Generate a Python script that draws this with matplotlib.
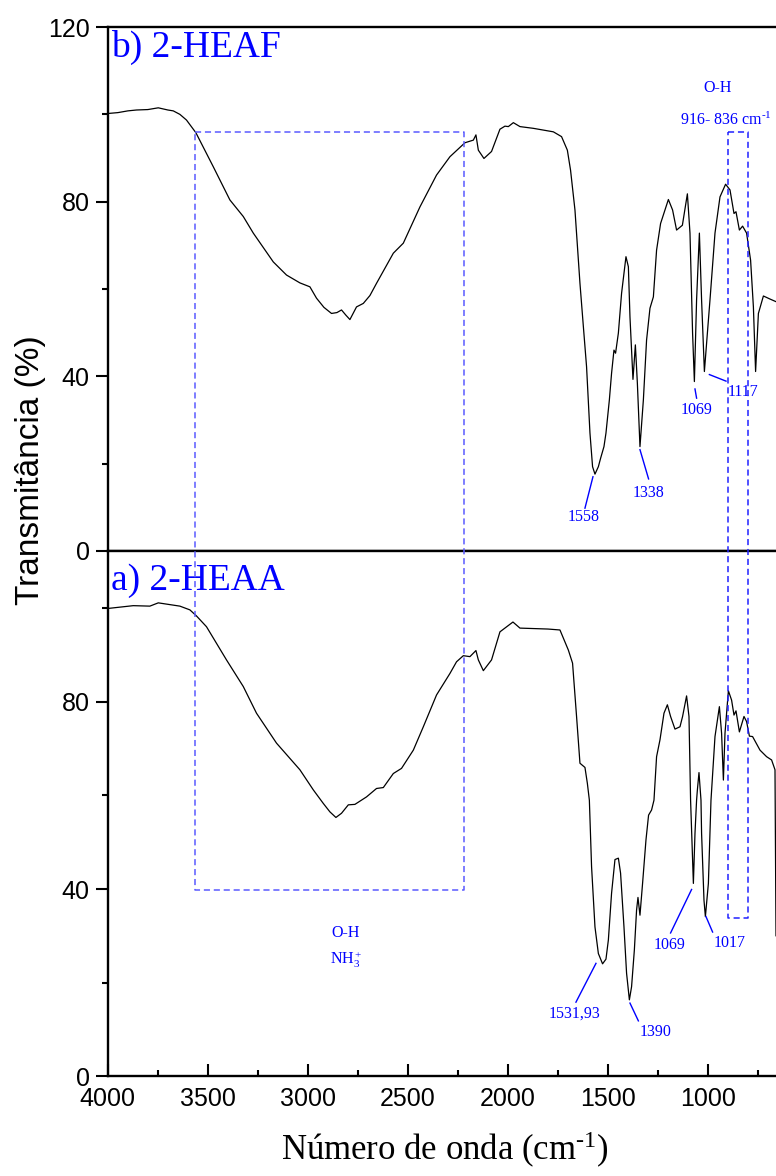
import matplotlib
matplotlib.use('Agg')
import matplotlib.pyplot as plt
from matplotlib.lines import Line2D
from matplotlib.ticker import MultipleLocator

plt.rcParams['font.family'] = ['Liberation Sans', 'DejaVu Sans']
plt.rcParams['mathtext.fontset'] = 'custom'
plt.rcParams['mathtext.rm'] = 'Liberation Serif'
plt.rcParams['mathtext.it'] = 'Liberation Serif:italic'

# b) 2-HEAF spectrum (upper panel)
wn_heaf = [4000, 3950, 3900, 3857, 3800, 3748, 3700, 3673, 3640, 3607, 3560, 3473, 3390,
           3323, 3273, 3173, 3107, 3040, 2990, 2957, 2920, 2882, 2855, 2832, 2810, 2790,
           2757, 2723, 2690, 2657, 2573, 2523, 2440, 2357, 2290, 2215, 2173, 2160, 2148,
           2120, 2082, 2040, 2015, 1998, 1973, 1940, 1873, 1773, 1732, 1703, 1687, 1665,
           1640, 1623, 1607, 1590, 1577, 1565, 1548, 1537, 1520, 1510, 1493, 1482, 1470,
           1462, 1448, 1432, 1410, 1398, 1390, 1375, 1363, 1353, 1340, 1323, 1307, 1290,
           1273, 1257, 1237, 1198, 1177, 1157, 1128, 1103, 1090, 1077, 1068, 1057, 1043,
           1032, 1018, 1003, 990, 965, 940, 912, 890, 870, 860, 843, 827, 807, 787, 773,
           762, 748, 723, 690, 660]
t_heaf = [100.2, 100.4, 100.8, 101.0, 101.1, 101.5, 101.0, 100.8, 100.0, 98.7, 95.8, 88.0, 80.4,
          76.6, 72.8, 66.2, 63.2, 61.4, 60.5, 57.9, 55.8, 54.4, 54.6, 55.2, 54.0, 53.0,
          55.9, 56.7, 58.5, 61.3, 68.2, 70.5, 78.8, 86.1, 90.3, 93.5, 94.1, 95.3, 91.8,
          89.9, 91.5, 96.6, 97.3, 97.2, 98.1, 97.2, 96.8, 96.0, 94.9, 91.8, 87.2, 78.1,
          61.3, 51.4, 42.2, 27.0, 19.3, 17.6, 19.3, 21.2, 23.9, 27.0, 34.6, 40.7, 46.0,
          45.3, 49.9, 59.0, 67.4, 65.1, 53.6, 39.3, 47.2, 38.4, 23.9, 34.6, 48.3, 55.6,
          58.2, 68.9, 75.0, 80.5, 78.1, 73.5, 74.6, 81.8, 72.8, 49.9, 38.8, 57.5, 72.8,
          57.5, 41.1, 49.9, 57.5, 72.8, 81.1, 84.0, 82.7, 77.3, 77.7, 73.5, 74.4, 72.8, 66.6, 55.9,
          41.1, 54.4, 58.4, 57.7, 57.1]

# a) 2-HEAA spectrum (lower panel)
wn_heaa = [4000, 3873, 3790, 3748, 3640, 3590, 3557, 3507, 3407, 3323, 3257, 3157, 3040,
           2973, 2923, 2890, 2860, 2832, 2798, 2765, 2707, 2657, 2623, 2573, 2532, 2473,
           2423, 2357, 2290, 2257, 2223, 2190, 2160, 2148, 2123, 2082, 2040, 1975, 1940,
           1800, 1740, 1698, 1677, 1657, 1640, 1615, 1603, 1593, 1582, 1565, 1548, 1527,
           1510, 1498, 1482, 1465, 1448, 1437, 1420, 1407, 1393, 1382, 1368, 1357, 1350,
           1340, 1327, 1310, 1297, 1282, 1270, 1257, 1240, 1220, 1203, 1187, 1165, 1140,
           1127, 1107, 1095, 1087, 1073, 1065, 1057, 1053, 1045, 1035, 1032, 1020, 1013,
           998, 985, 965, 943, 932, 923, 915, 898, 882, 870, 860, 843, 820, 807, 793,
           777, 740, 707, 682, 665, 660]
t_heaa = [100.0, 100.6, 100.5, 101.2, 100.5, 99.7, 98.4, 96.1, 89.0, 83.3, 77.6, 71.2, 65.5,
          61.2, 58.3, 56.5, 55.3, 56.2, 58.0, 58.1, 59.7, 61.5, 61.7, 64.7, 65.8, 69.7,
          74.7, 81.5, 86.1, 88.6, 89.9, 89.7, 91.0, 89.0, 86.7, 89.0, 95.0, 97.1, 95.8,
          95.6, 95.4, 91.1, 88.3, 76.9, 66.9, 66.0, 62.6, 59.0, 44.8, 31.9, 26.2, 24.0,
          25.0, 29.1, 39.1, 46.3, 46.6, 43.4, 31.9, 22.0, 16.3, 19.1, 27.0, 35.5, 38.2,
          34.4, 41.2, 50.5, 55.8, 56.9, 59.0, 68.3, 71.9, 77.6, 79.4, 76.9, 74.2, 74.7,
          76.9, 81.3, 76.9, 59.0, 41.2, 51.9, 59.0, 61.2, 64.9, 59.0, 51.9, 37.6, 34.1,
          41.2, 59.0, 72.6, 79.0, 73.3, 63.3, 73.3, 82.4, 80.4, 77.2, 78.1, 73.6, 76.9, 75.8, 72.7,
          72.6, 69.7, 68.3, 67.6, 65.5, 30.0]

# peak labels: (text, text_x, text_y, line_x0, line_y0, line_x1, line_y1)
peaks_heaf = [('1558', 1620, 7.8, 1575, 17.0, 1615, 9.8),
              ('1338', 1295, 13.3, 1340, 23.2, 1297, 16.5),
              ('1069', 1055, 32.3, 1065, 37.1, 1057, 35.0),
              ('1117', 825, 36.4, 993, 40.4, 910, 38.9)]
peaks_heaa = [('1531,93', 1665, 13.3, 1560, 24.1, 1660, 15.8),
              ('1390', 1260, 9.5, 1390, 15.6, 1348, 11.8),
              ('1069', 1190, 28.0, 1082, 39.9, 1187, 30.6),
              ('1017', 893, 28.5, 1010, 34.1, 977, 30.8)]

blue = '#0000ff'
serif = ['Liberation Serif', 'DejaVu Serif']

fig = plt.figure(figsize=(7.76, 11.76), dpi=100)
ax_b = fig.add_axes([0.139, 0.5315, 0.861, 0.4455])
ax_a = fig.add_axes([0.139, 0.085, 0.861, 0.4465])

ax_b.plot(wn_heaf, t_heaf, color='black', lw=0.9)
ax_a.plot(wn_heaa, t_heaa, color='black', lw=0.9)

ax_b.set_ylim(0, 120)
ax_a.set_ylim(0, 112.3)
for ax in (ax_a, ax_b):
    ax.set_xlim(4000, 660)
    ax.spines['right'].set_visible(False)
    for s in ('left', 'bottom', 'top'):
        ax.spines[s].set_linewidth(1.7)
    ax.yaxis.set_major_locator(MultipleLocator(40))
    ax.yaxis.set_minor_locator(MultipleLocator(20))
    ax.xaxis.set_major_locator(MultipleLocator(500))
    ax.xaxis.set_minor_locator(MultipleLocator(250))
    ax.tick_params(axis='y', which='major', direction='out', length=9, width=1.5,
                   labelsize=18, pad=4)
    ax.tick_params(axis='y', which='minor', direction='out', length=4.5, width=1.5)
    ax.tick_params(axis='x', which='major', direction='in', length=9, width=1.5,
                   labelsize=18, pad=8)
    ax.tick_params(axis='x', which='minor', direction='in', length=4.5, width=1.5)

ax_b.tick_params(axis='x', which='both', bottom=False, labelbottom=False)
ax_a.tick_params(axis='x', which='both', top=False)

ax_b.text(3985, 115.4, 'b) 2-HEAF', color=blue, family=serif, fontsize=27,
          ha='left', va='center')
ax_a.text(3985, 105.9, 'a) 2-HEAA', color=blue, family=serif, fontsize=27,
          ha='left', va='center')

for ax, peaks in ((ax_b, peaks_heaf), (ax_a, peaks_heaa)):
    for txt, tx, ty, x0, y0, x1, y1 in peaks:
        ax.plot([x0, x1], [y0, y1], color=blue, lw=1)
        ax.text(tx, ty, txt, color=blue, family=serif, fontsize=11.5,
                ha='center', va='center')

ax_b.text(950, 106, 'O-H', color=blue, family=serif, fontsize=11.5, ha='center', va='center')
ax_b.text(1140, 98.7, r'916- 836 cm$^{\text{-1}}$', color=blue, family=serif,
          fontsize=11.5, ha='left', va='center', clip_on=False)
ax_a.text(2810, 30.6, 'O-H', color=blue, family=serif, fontsize=11.5, ha='center', va='center')
ax_a.text(2810, 24.8, r'NH$_3^+$', color=blue, family=serif, fontsize=11.5,
          ha='center', va='center')


def to_fig(ax, x, y):
    return fig.transFigure.inverted().transform(ax.transData.transform((x, y)))


# dashed boxes spanning both panels: (x_left, x_right, top in b, bottom in a)
boxes = [(3565, 2220, 96.0, 39.8, '#5a5aff'), (900, 800, 96.0, 33.8, '#2020ff')]
for xl, xr, top, bot, col in boxes:
    p1 = to_fig(ax_b, xl, top)
    p2 = to_fig(ax_b, xr, top)
    p3 = to_fig(ax_a, xr, bot)
    p4 = to_fig(ax_a, xl, bot)
    xs = [p1[0], p2[0], p3[0], p4[0], p1[0]]
    ys = [p1[1], p2[1], p3[1], p4[1], p1[1]]
    fig.add_artist(Line2D(xs, ys, transform=fig.transFigure, color=col, lw=1.1,
                          linestyle=(0, (4, 2.5))))

fig.text(0.039, 0.6, 'Transmitância (%)', rotation=90, fontsize=24,
         ha='center', va='center')
fig.text(0.573, 0.022, r'Número de onda (cm$^{\text{-1}}$)', family=serif,
         fontsize=25, ha='center', va='center')

fig.savefig('out.png', dpi=100)
